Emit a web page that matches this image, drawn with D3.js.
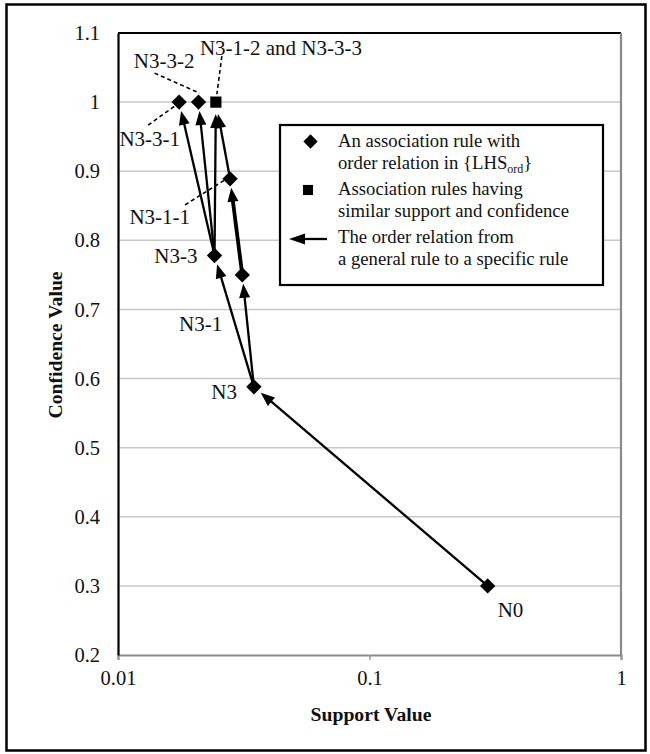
<!DOCTYPE html>
<html>
<head>
<meta charset="utf-8">
<script src="https://cdn.jsdelivr.net/npm/d3@7"></script>
<style>
  html, body { margin: 0; padding: 0; background: #fff; }
  svg { display: block; }
  text { font-family: "Liberation Serif", "Times New Roman", "DejaVu Serif", serif; fill: #111; }
</style>
</head>
<body>
<svg id="chart" width="650" height="754"></svg>
<script>
// Association rules: support (log scale) vs confidence
const ruleNames  = ["N0", "N3", "N3-1", "N3-3", "N3-1-1", "N3-3-1", "N3-3-2", "N3-1-2 and N3-3-3"];
const support    = [0.295, 0.0347, 0.0312, 0.0242, 0.0279, 0.0175, 0.0209, 0.0245];
const confidence = [0.3, 0.588, 0.75, 0.778, 0.889, 1.0, 1.0, 1.0];
const ruleKind   = ["single", "single", "single", "single", "single", "single", "single", "merged"];

// order relation: general rule -> specific rule
const edgeFrom = ["N0", "N3", "N3",   "N3-3",   "N3-3",   "N3-3",              "N3-1",   "N3-1-1"];
const edgeTo   = ["N3", "N3-3", "N3-1", "N3-3-1", "N3-3-2", "N3-1-2 and N3-3-3", "N3-1-1", "N3-1-2 and N3-3-3"];

const xTicks = [0.01, 0.1, 1];
const xTickLabels = ["0.01", "0.1", "1"];
const yTicks = [0.2, 0.3, 0.4, 0.5, 0.6, 0.7, 0.8, 0.9, 1.0, 1.1];
const yTickLabels = ["0.2", "0.3", "0.4", "0.5", "0.6", "0.7", "0.8", "0.9", "1", "1.1"];

const legendLines = [
  ["An association rule with", "order relation in {LHS|ord|}"],
  ["Association rules having", "similar support and confidence"],
  ["The order relation from", "a general rule to a specific rule"]
];

const svg = d3.select("#chart");
const L = 118, R = 621, T = 33, B = 655;
const x = d3.scaleLog().domain([0.01, 1]).range([L, R]);
const y = d3.scaleLinear().domain([0.2, 1.1]).range([B, T]);

const pts = ruleNames.map((n, i) => ({ name: n, s: support[i], c: confidence[i], kind: ruleKind[i] }));
const byName = new Map(pts.map(p => [p.name, p]));

// outer frame
svg.append("rect").attr("x", 6.5).attr("y", 4.5).attr("width", 639).attr("height", 746)
  .attr("fill", "none").attr("stroke", "#000").attr("stroke-width", 2.5);

// horizontal gridlines
svg.append("g").selectAll("line").data(yTicks.slice(1, -1)).join("line")
  .attr("x1", L).attr("x2", R).attr("y1", d => y(d)).attr("y2", d => y(d))
  .attr("stroke", "#c8c8c8").attr("stroke-width", 1.5);

// x axis (bottom)
const xAxis = d3.axisBottom(x).tickValues(xTicks).tickFormat((d, i) => xTickLabels[i]).tickSize(5).tickPadding(10);
const gx = svg.append("g").attr("transform", `translate(0,${B})`).call(xAxis);
gx.attr("font-family", null);
gx.select(".domain").attr("stroke", "#8a8a8a").attr("stroke-width", 2.2);
gx.selectAll(".tick line").attr("stroke", "#9a9a9a").attr("stroke-width", 1.5);
gx.selectAll(".tick text").attr("font-size", 20.5).attr("fill", "#222");

// y axis (left)
const yAxis = d3.axisLeft(y).tickValues(yTicks).tickFormat((d, i) => yTickLabels[i]).tickSize(0).tickPadding(18);
const gy = svg.append("g").attr("transform", `translate(${L},0)`).call(yAxis);
gy.attr("font-family", null);
gy.select(".domain").attr("stroke", "#000").attr("stroke-width", 2.2);
gy.selectAll(".tick text").attr("font-size", 20.5).attr("fill", "#222");

// plot frame: top black, right gray
svg.append("line").attr("x1", L).attr("x2", R).attr("y1", T).attr("y2", T)
  .attr("stroke", "#000").attr("stroke-width", 2.2);
svg.append("line").attr("x1", R).attr("x2", R).attr("y1", T).attr("y2", B)
  .attr("stroke", "#8a8a8a").attr("stroke-width", 2.2);

// axis titles
svg.append("text").attr("x", 371).attr("y", 721).attr("text-anchor", "middle")
  .attr("font-size", 19.7).attr("font-weight", "bold").text("Support Value");
svg.append("text").attr("transform", "translate(62,345) rotate(-90)").attr("text-anchor", "middle")
  .attr("font-size", 19.7).attr("font-weight", "bold").text("Confidence Value");

// arrows
const heavy = new Set(["N3-1>N3-1-1"]);
const arrows = svg.append("g");
edgeFrom.forEach((f, i) => {
  const a = byName.get(f), b = byName.get(edgeTo[i]);
  const x1 = x(a.s), y1 = y(a.c), x2 = x(b.s), y2 = y(b.c);
  const dx = x2 - x1, dy = y2 - y1, len = Math.hypot(dx, dy);
  const ux = dx / len, uy = dy / len;
  const tipOff = b.kind === "merged" ? 12 : 9;
  const tx = x2 - ux * tipOff, ty = y2 - uy * tipOff;
  const hl = 14, hw = 5.5;
  const bx = tx - ux * hl, by = ty - uy * hl;
  const w = heavy.has(f + ">" + edgeTo[i]) ? 3.8 : 2.3;
  arrows.append("line").attr("x1", x1).attr("y1", y1).attr("x2", bx + ux * 2).attr("y2", by + uy * 2)
    .attr("stroke", "#000").attr("stroke-width", w);
  arrows.append("path")
    .attr("d", `M${tx},${ty}L${bx - uy * hw},${by + ux * hw}L${bx + uy * hw},${by - ux * hw}Z`)
    .attr("fill", "#000");
});

// markers
const diamond = d3.symbol().type(d3.symbolDiamond2).size(150);
const square = d3.symbol().type(d3.symbolSquare2).size(160);
svg.append("g").selectAll("path").data(pts).join("path")
  .attr("transform", d => `translate(${x(d.s)},${y(d.c)})`)
  .attr("d", d => d.kind === "merged" ? square() : diamond())
  .attr("fill", "#000");

// point labels and dashed leaders
const labelLayout = {
  "N0":                { dx: 10,  dy: 31, anchor: "start" },
  "N3":                { dx: -17, dy: 12, anchor: "end" },
  "N3-1":              { dx: -20, dy: 56, anchor: "end" },
  "N3-3":              { dx: -17, dy: 7,  anchor: "end" },
  "N3-1-1":            { dx: -40, dy: 45, anchor: "end",   lead: [-45, 26, -5, 1] },
  "N3-3-1":            { dx: 1,   dy: 44, anchor: "end",   lead: [-31, 23, -3, 3] },
  "N3-3-2":            { dx: -4,  dy: -34, anchor: "end",  lead: [-44, -29, 1, -9] },
  "N3-1-2 and N3-3-3": { dx: -16, dy: -47, anchor: "start", lead: [6, -46, 1, -8] }
};
const lab = svg.append("g");
pts.forEach(p => {
  const o = labelLayout[p.name], px = x(p.s), py = y(p.c);
  lab.append("text").attr("x", px + o.dx).attr("y", py + o.dy).attr("text-anchor", o.anchor)
    .attr("font-size", 21).text(p.name);
  if (o.lead) {
    lab.append("line")
      .attr("x1", px + o.lead[0]).attr("y1", py + o.lead[1])
      .attr("x2", px + o.lead[2]).attr("y2", py + o.lead[3])
      .attr("stroke", "#000").attr("stroke-width", 1.6).attr("stroke-dasharray", "4,3");
  }
});

// legend
const lg = svg.append("g");
lg.append("rect").attr("x", 280).attr("y", 125).attr("width", 323).attr("height", 160)
  .attr("fill", "#fff").attr("stroke", "#000").attr("stroke-width", 2.2);
const rowY = [147, 195, 243];
legendLines.forEach((lines, i) => {
  lines.forEach((ln, j) => {
    const t = lg.append("text").attr("x", 338).attr("y", rowY[i] + j * 21.7).attr("font-size", 18.7);
    const parts = ln.split("|");
    t.append("tspan").text(parts[0]);
    if (parts.length > 1) {
      t.append("tspan").attr("font-size", 12).attr("dy", 4).text(parts[1]);
      t.append("tspan").attr("dy", -4).text(parts[2]);
    }
  });
});
lg.append("path").attr("transform", "translate(310.5,141.5)").attr("d", d3.symbol().type(d3.symbolDiamond2).size(130)()).attr("fill", "#000");
lg.append("path").attr("transform", "translate(308,190)").attr("d", d3.symbol().type(d3.symbolSquare2).size(130)()).attr("fill", "#000");
lg.append("line").attr("x1", 327).attr("y1", 239).attr("x2", 302).attr("y2", 239).attr("stroke", "#000").attr("stroke-width", 2.3);
lg.append("path").attr("d", "M289,239L305,233.5L305,244.5Z").attr("fill", "#000");
</script>
</body>
</html>
